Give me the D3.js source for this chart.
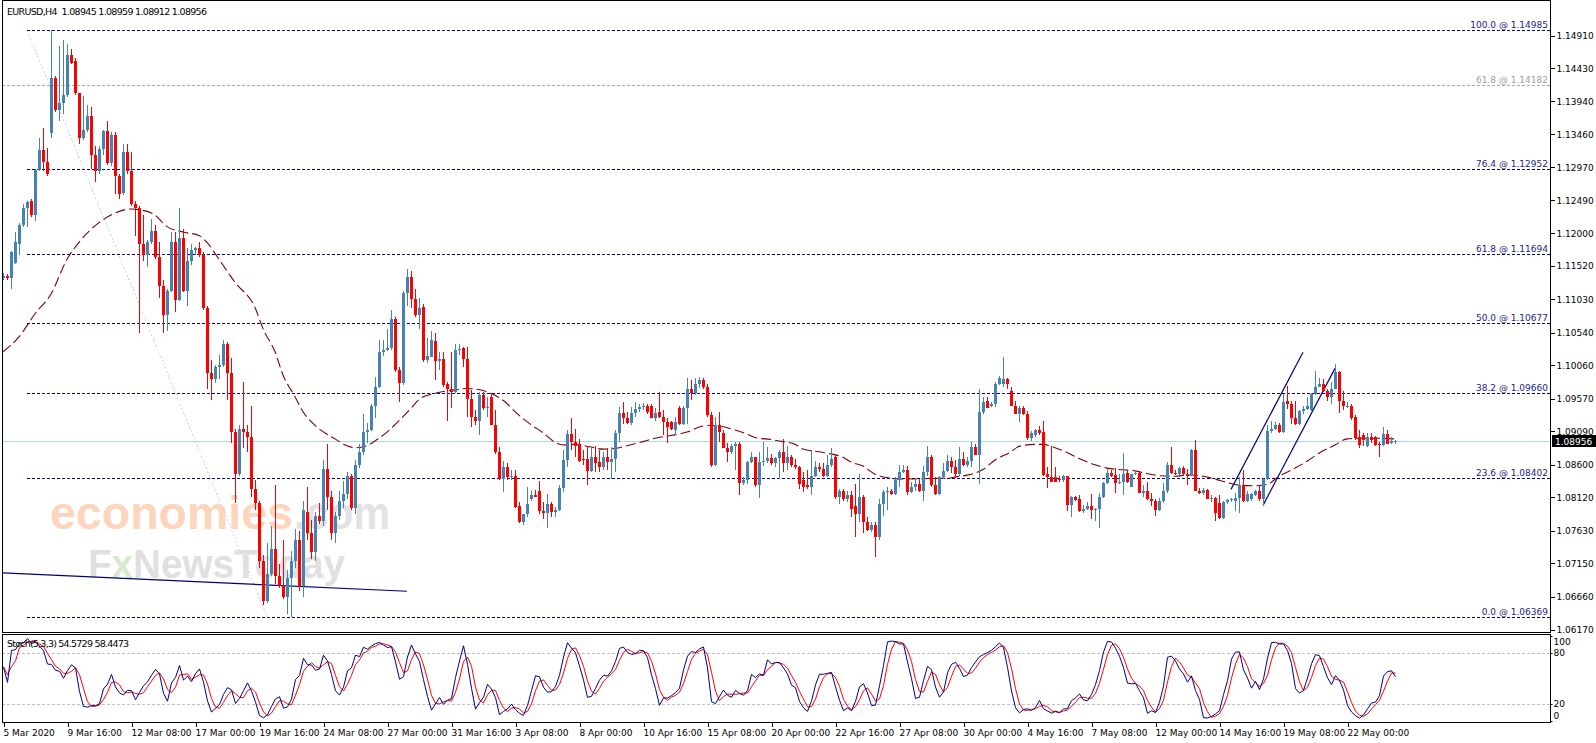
<!DOCTYPE html>
<html>
<head>
<meta charset="utf-8">
<script src="https://cdn.jsdelivr.net/npm/d3@7"></script>
<style>
  body { margin: 0; background: #fff; }
  svg { display: block; }
</style>
</head>
<body>
<svg width="1596" height="743"></svg>
<script>
const width = 1596, height = 743;

// EURUSD H4 bars from 5 Mar 2020 00:00, one row per bar: open, high, low, close
const ohlc = [
  [1.1134,1.1142,1.1131,1.1138],[1.1138,1.1140,1.1132,1.1134],[1.1134,1.1174,1.1119,1.1173],[1.1156,1.1202,1.1155,1.1187],
  [1.1185,1.1216,1.1168,1.1213],[1.1213,1.1244,1.1210,1.1237],[1.1237,1.1247,1.1210,1.1246],[1.1247,1.1250,1.1224,1.1227],
  [1.1227,1.1295,1.1219,1.1294],[1.1294,1.1341,1.1292,1.1323],[1.1323,1.1355,1.1292,1.1305],[1.1305,1.1325,1.1285,1.1287],
  [1.1348,1.14985,1.1341,1.1429],[1.1429,1.1432,1.1378,1.1382],[1.1382,1.1475,1.1365,1.1392],[1.1392,1.1484,1.1375,1.1403],
  [1.1403,1.1479,1.1400,1.1462],[1.1462,1.1471,1.1449,1.1450],[1.1454,1.1458,1.1403,1.1406],[1.1406,1.1407,1.1331,1.1341],
  [1.1341,1.1402,1.1338,1.1352],[1.1352,1.1389,1.1349,1.1372],[1.1372,1.1386,1.1295,1.1315],[1.1315,1.1329,1.1275,1.1292],
  [1.1292,1.1329,1.1287,1.1324],[1.1324,1.1352,1.1315,1.1350],[1.1350,1.1366,1.1301,1.1303],[1.1303,1.1349,1.1299,1.1345],
  [1.1345,1.1349,1.1258,1.1284],[1.1284,1.1287,1.1250,1.1258],[1.1259,1.1332,1.1256,1.1320],[1.1320,1.1331,1.1287,1.1292],
  [1.1292,1.1320,1.1241,1.1244],[1.1244,1.1248,1.1196,1.1237],[1.1237,1.1241,1.1054,1.1185],[1.1185,1.1227,1.1159,1.1168],
  [1.1168,1.1190,1.1150,1.1187],[1.1187,1.1221,1.1185,1.1203],[1.1203,1.1213,1.1162,1.1165],[1.1165,1.1187,1.1105,1.1123],
  [1.1123,1.1132,1.1054,1.1080],[1.1080,1.1119,1.1057,1.1116],[1.1116,1.1202,1.1114,1.1187],[1.1187,1.1202,1.1085,1.1102],
  [1.1102,1.1237,1.1100,1.1193],[1.1193,1.1207,1.1114,1.1116],[1.1116,1.1179,1.1094,1.1159],[1.1159,1.1185,1.1153,1.1176],
  [1.1176,1.1180,1.1168,1.1178],[1.1178,1.1187,1.1165,1.1169],[1.1169,1.1173,1.1088,1.1091],[1.1091,1.1094,1.0972,1.0995],
  [1.0995,1.1014,1.0955,1.0986],[1.0986,1.1006,1.0980,1.1004],[1.1004,1.1021,1.0986,1.1007],[1.1007,1.1044,1.1003,1.1038],
  [1.1038,1.1040,1.0955,1.0995],[1.0995,1.1017,1.0892,1.0908],[1.0908,1.0912,1.0804,1.0847],[1.0847,1.0919,1.0844,1.0912],
  [1.0912,1.0981,1.0884,1.0908],[1.0908,1.0918,1.0878,1.0901],[1.0901,1.0947,1.0813,1.0824],[1.0824,1.0838,1.0793,1.0804],
  [1.0804,1.0807,1.0708,1.0719],[1.0719,1.0728,1.0654,1.0660],[1.0660,1.0745,1.0657,1.0699],[1.0699,1.0770,1.0696,1.0736],
  [1.0736,1.0830,1.0685,1.0697],[1.0697,1.0714,1.0679,1.0682],[1.0682,1.0750,1.0662,1.0665],[1.0665,1.0705,1.0640,1.0694],
  [1.0694,1.0733,1.06369,1.0719],[1.0719,1.0765,1.0708,1.0750],[1.0750,1.0762,1.0674,1.0682],[1.0682,1.0807,1.0665,1.0793],
  [1.0790,1.0827,1.0750,1.0759],[1.0759,1.0779,1.0722,1.0731],[1.0731,1.0790,1.0719,1.0784],[1.0784,1.0804,1.0773,1.0777],
  [1.0777,1.0867,1.0770,1.0853],[1.0853,1.0890,1.0793,1.0813],[1.0813,1.0821,1.0750,1.0759],[1.0759,1.0790,1.0745,1.0784],
  [1.0784,1.0821,1.0779,1.0807],[1.0807,1.0836,1.0796,1.0817],[1.0817,1.0850,1.0810,1.0844],[1.0844,1.0847,1.0793,1.0796],
  [1.0796,1.0867,1.0787,1.0860],[1.0860,1.0890,1.0855,1.0879],[1.0879,1.0935,1.0875,1.0908],[1.0908,1.0921,1.0892,1.0911],
  [1.0911,1.0949,1.0909,1.0947],[1.0947,1.0989,1.0929,1.0975],[1.0975,1.1044,1.0973,1.1025],[1.1025,1.1043,1.1020,1.1028],
  [1.1028,1.1060,1.1027,1.1031],[1.1031,1.1087,1.1028,1.1074],[1.1074,1.1077,1.0997,1.1000],[1.1000,1.1003,1.0952,1.0980],
  [1.0980,1.1115,1.0977,1.1112],[1.1112,1.1148,1.1094,1.1136],[1.1136,1.1145,1.1091,1.1104],[1.1104,1.1119,1.1077,1.1080],
  [1.1080,1.1105,1.1060,1.1091],[1.1092,1.1096,1.1011,1.1014],[1.1014,1.1046,1.1009,1.1020],[1.1019,1.1057,1.1018,1.1044],
  [1.1042,1.1054,1.0984,1.1012],[1.1012,1.1026,1.0999,1.1016],[1.1016,1.1026,1.0975,1.0977],[1.0978,1.0982,1.0925,1.0971],
  [1.0971,1.1026,1.0943,1.0967],[1.0967,1.1037,1.0965,1.1028],[1.1028,1.1038,1.1021,1.1030],[1.1032,1.1033,1.1004,1.1016],
  [1.1016,1.1033,1.0930,1.0957],[1.0957,1.0970,1.0916,1.0930],[1.0930,1.0940,1.0918,1.0924],[1.0924,1.0967,1.0903,1.0962],
  [1.0962,1.0967,1.0940,1.0943],[1.0943,1.0960,1.0930,1.0945],[1.0960,1.0966,1.0918,1.0919],[1.0919,1.0940,1.0876,1.0879],
  [1.0879,1.0886,1.0837,1.0839],[1.0839,1.0866,1.0820,1.0856],[1.0856,1.0862,1.0837,1.0842],[1.0842,1.0852,1.0837,1.0844],
  [1.0843,1.0852,1.0797,1.0798],[1.0799,1.0805,1.0774,1.0776],[1.0776,1.0788,1.0772,1.0787],[1.0787,1.0828,1.0783,1.0803],
  [1.0810,1.0822,1.0807,1.0815],[1.0815,1.0823,1.0812,1.0813],[1.0822,1.0836,1.0788,1.0792],[1.0792,1.0805,1.0780,1.0789],
  [1.0789,1.0817,1.0767,1.0802],[1.0802,1.0805,1.0783,1.0790],[1.0790,1.0798,1.0783,1.0793],[1.0793,1.0830,1.0792,1.0826],
  [1.0826,1.0881,1.0820,1.0867],[1.0867,1.0911,1.0857,1.0905],[1.0905,1.0928,1.0881,1.0893],[1.0893,1.0912,1.0871,1.0888],
  [1.0891,1.0898,1.0864,1.0866],[1.0869,1.0881,1.0859,1.0867],[1.0869,1.0888,1.0830,1.0851],[1.0851,1.0886,1.0849,1.0872],
  [1.0872,1.0888,1.0849,1.0862],[1.0864,1.0881,1.0849,1.0856],[1.0856,1.0879,1.0852,1.0871],[1.0871,1.0884,1.0852,1.0864],
  [1.0864,1.0886,1.0839,1.0869],[1.0869,1.0911,1.0849,1.0906],[1.0906,1.0945,1.0893,1.0936],[1.0936,1.0952,1.0920,1.0928],
  [1.0928,1.0938,1.0920,1.0921],[1.0921,1.0945,1.0918,1.0936],[1.0936,1.0952,1.0930,1.0942],[1.0942,1.0950,1.0938,1.0945],
  [1.0945,1.0951,1.0940,1.0947],[1.0947,1.0950,1.0935,1.0938],[1.0947,1.0950,1.0928,1.0929],[1.0929,1.0943,1.0925,1.0936],
  [1.0938,1.0967,1.0929,1.0930],[1.0930,1.0940,1.0903,1.0923],[1.0923,1.0928,1.0892,1.0916],[1.0923,1.0925,1.0911,1.0912],
  [1.0911,1.0930,1.0903,1.0923],[1.0944,1.0947,1.0918,1.0920],[1.0920,1.0947,1.0918,1.0944],[1.0944,1.0987,1.0920,1.0971],
  [1.0971,1.0984,1.0955,1.0965],[1.0965,1.0987,1.0962,1.0979],[1.0979,1.0989,1.0973,1.0985],[1.0985,1.0988,1.0972,1.0974],
  [1.0975,1.0979,1.0930,1.0933],[1.0933,1.0938,1.0857,1.0859],[1.0859,1.0930,1.0858,1.0918],[1.0918,1.0938,1.0893,1.0908],
  [1.0907,1.0911,1.0884,1.0885],[1.0885,1.0892,1.0864,1.0879],[1.0879,1.0891,1.0876,1.0887],[1.0887,1.0893,1.0852,1.0890],
  [1.0890,1.0893,1.0815,1.0833],[1.0833,1.0842,1.0830,1.0838],[1.0838,1.0866,1.0832,1.0864],[1.0864,1.0879,1.0862,1.0871],
  [1.0871,1.0872,1.0828,1.0830],[1.0830,1.0879,1.0811,1.0864],[1.0864,1.0893,1.0858,1.0866],[1.0866,1.0886,1.0862,1.0870],
  [1.0870,1.0876,1.0859,1.0862],[1.0862,1.0871,1.0857,1.0870],[1.0870,1.0881,1.0839,1.0879],[1.0879,1.0898,1.0849,1.0862],
  [1.0862,1.0888,1.0852,1.0871],[1.0871,1.0874,1.0857,1.0859],[1.0859,1.0869,1.0854,1.0856],[1.0856,1.0858,1.0825,1.0832],
  [1.0837,1.0849,1.0820,1.0827],[1.0830,1.0852,1.0825,1.0828],[1.0828,1.0881,1.0815,1.0844],[1.0844,1.0866,1.0842,1.0857],
  [1.0856,1.0862,1.0849,1.0853],[1.0854,1.0862,1.0842,1.0844],[1.0844,1.0874,1.0842,1.0859],[1.0859,1.0885,1.0857,1.0869],
  [1.0872,1.0875,1.0810,1.0813],[1.0813,1.0825,1.0803,1.0822],[1.0822,1.0825,1.0807,1.0810],[1.0810,1.0822,1.0805,1.0815],
  [1.0816,1.0822,1.0783,1.0795],[1.0800,1.0832,1.0754,1.0788],[1.0788,1.0846,1.0776,1.0813],[1.0813,1.0815,1.0759,1.0776],
  [1.0776,1.0783,1.0763,1.0764],[1.0764,1.0776,1.0761,1.0772],[1.0772,1.0776,1.0725,1.0754],[1.0754,1.0810,1.0749,1.0803],
  [1.0803,1.0823,1.0785,1.0820],[1.0820,1.0827,1.0793,1.0822],[1.0822,1.0825,1.0815,1.0817],[1.0817,1.0842,1.0816,1.0837],
  [1.0837,1.0859,1.0827,1.0849],[1.0849,1.0859,1.0848,1.0852],[1.0852,1.0858,1.0815,1.0820],[1.0820,1.0835,1.0818,1.0828],
  [1.0828,1.0837,1.0822,1.0832],[1.0832,1.0839,1.0820,1.0822],[1.0822,1.0858,1.0807,1.0849],[1.0849,1.0888,1.0844,1.0871],
  [1.0871,1.0875,1.0827,1.0830],[1.0830,1.0842,1.0816,1.0817],[1.0817,1.0844,1.0816,1.0842],[1.0842,1.0862,1.0839,1.0851],
  [1.0851,1.0874,1.0849,1.0866],[1.0866,1.0871,1.0848,1.0857],[1.0857,1.0867,1.0840,1.0846],[1.0846,1.0886,1.0844,1.0869],
  [1.0869,1.0879,1.0858,1.0859],[1.0859,1.0871,1.0857,1.0866],[1.0866,1.0893,1.0857,1.0886],[1.0886,1.0890,1.0874,1.0875],
  [1.0875,1.0972,1.0832,1.0938],[1.0938,1.0960,1.0934,1.0952],[1.0954,1.0960,1.0943,1.0944],[1.0946,1.0952,1.0945,1.0949],
  [1.0949,1.0982,1.0945,1.0979],[1.0979,1.0990,1.0977,1.0987],[1.0979,1.1018,1.0974,1.0986],[1.0986,1.0988,1.0971,1.0978],
  [1.0968,1.0974,1.0946,1.0947],[1.0947,1.0954,1.0934,1.0935],[1.0935,1.0947,1.0923,1.0944],[1.0944,1.0946,1.0933,1.0934],
  [1.0935,1.0939,1.0897,1.0899],[1.0899,1.0910,1.0895,1.0907],[1.0903,1.0913,1.0901,1.0911],[1.0911,1.0917,1.0903,1.0906],
  [1.0908,1.0925,1.0843,1.0845],[1.0847,1.0857,1.0826,1.0842],[1.0842,1.0887,1.0834,1.0835],[1.0842,1.0857,1.0834,1.0835],
  [1.0839,1.0844,1.0835,1.0837],[1.0837,1.0845,1.0835,1.0843],[1.0843,1.0844,1.0792,1.0801],[1.0801,1.0814,1.0783,1.0812],
  [1.0812,1.0814,1.0806,1.0808],[1.0809,1.0816,1.0790,1.0792],[1.0792,1.0801,1.0789,1.0795],[1.0795,1.0805,1.0793,1.0799],
  [1.0800,1.0817,1.0780,1.0793],[1.0793,1.0796,1.0777,1.0795],[1.0795,1.0818,1.0767,1.0812],[1.0812,1.0835,1.0811,1.0833],
  [1.0833,1.0853,1.0832,1.0848],[1.0848,1.0852,1.0842,1.0843],[1.0845,1.0855,1.0819,1.0833],[1.0833,1.0847,1.0832,1.0835],
  [1.0835,1.0877,1.0816,1.0847],[1.0848,1.0852,1.0833,1.0835],[1.0828,1.0847,1.0827,1.0846],[1.0846,1.0851,1.0845,1.0848],
  [1.0848,1.0850,1.0818,1.0819],[1.0818,1.0830,1.0813,1.0822],[1.0822,1.0834,1.0808,1.0809],[1.0809,1.0819,1.0800,1.0806],
  [1.0806,1.0809,1.0784,1.0793],[1.0793,1.0811,1.0792,1.0806],[1.0806,1.0833,1.0804,1.0821],[1.0821,1.0864,1.0818,1.0860],
  [1.0860,1.0886,1.0847,1.0848],[1.0848,1.0852,1.0845,1.0847],[1.0847,1.0857,1.0845,1.0855],[1.0855,1.0858,1.0843,1.0847],
  [1.0847,1.0853,1.0830,1.0844],[1.0844,1.0883,1.0843,1.0881],[1.0881,1.0897,1.0821,1.0822],[1.0822,1.0826,1.0817,1.0818],
  [1.0818,1.0826,1.0816,1.0823],[1.0823,1.0824,1.0809,1.0810],[1.0809,1.0816,1.0805,1.0811],[1.0811,1.0813,1.0777,1.0789],
  [1.0804,1.0816,1.0780,1.0782],[1.0782,1.0806,1.0780,1.0805],[1.0805,1.0809,1.0803,1.0808],[1.0808,1.0811,1.0805,1.0809],
  [1.0806,1.0818,1.0792,1.0811],[1.0811,1.0842,1.0789,1.0830],[1.0830,1.0852,1.0805,1.0806],[1.0806,1.0821,1.0805,1.0817],
  [1.0809,1.0818,1.0806,1.0817],[1.0816,1.0823,1.0814,1.0821],[1.0822,1.0829,1.0806,1.0809],[1.0809,1.0840,1.0801,1.0839],
  [1.0839,1.0919,1.0837,1.0910],[1.0910,1.0925,1.0907,1.0913],[1.0913,1.0923,1.0911,1.0919],[1.0919,1.0921,1.0907,1.0908],
  [1.0908,1.0964,1.0906,1.0952],[1.0953,1.0976,1.0942,1.0950],[1.0950,1.0954,1.0920,1.0928],[1.0929,1.0954,1.0918,1.0920],
  [1.0920,1.0941,1.0918,1.0939],[1.0939,1.0947,1.0935,1.0942],[1.0942,1.0960,1.0940,1.0947],[1.0940,1.0965,1.0939,1.0964],
  [1.0964,1.0998,1.0963,1.0975],[1.0975,1.0988,1.0974,1.0978],[1.0978,1.0986,1.0967,1.0968],[1.0968,1.0971,1.0954,1.0959],
  [1.0959,1.0981,1.0950,1.0972],[1.0972,1.1008,1.0971,1.0996],[1.0996,1.0998,1.0936,1.0953],[1.0953,1.0969,1.0940,1.0947],
  [1.0946,1.0952,1.0944,1.0947],[1.0947,1.0950,1.0926,1.0928],[1.0930,1.0933,1.0896,1.0899],[1.0901,1.0911,1.0885,1.0889],
  [1.0903,1.0906,1.0887,1.0896],[1.0887,1.0907,1.0886,1.0901],[1.0901,1.0906,1.0892,1.0896],[1.0901,1.0902,1.0887,1.0889],
  [1.0891,1.0894,1.0871,1.0889],[1.0889,1.0915,1.0887,1.0905],[1.0905,1.0911,1.0890,1.0891],[1.0892,1.0901,1.0891,1.0895],
  [1.08945,1.08959,1.08912,1.08956]
];

// one label every 16 bars, starting at the first bar
const timeLabels = ["5 Mar 2020", "9 Mar 16:00", "12 Mar 08:00", "17 Mar 00:00", "19 Mar 16:00", "24 Mar 08:00",
  "27 Mar 00:00", "31 Mar 16:00", "3 Apr 08:00", "8 Apr 00:00", "10 Apr 16:00", "15 Apr 08:00", "20 Apr 00:00",
  "22 Apr 16:00", "27 Apr 08:00", "30 Apr 00:00", "4 May 16:00", "7 May 08:00", "12 May 00:00", "14 May 16:00",
  "19 May 08:00", "22 May 00:00"];
const labelStep = 16;

const priceTicks = [1.14910, 1.14430, 1.13940, 1.13460, 1.12970, 1.12490, 1.12000, 1.11520, 1.11030, 1.10540,
  1.10060, 1.09570, 1.09090, 1.08600, 1.08120, 1.07630, 1.07150, 1.06660, 1.06170];
const stochTicks = [100, 80, 20, 0];
const stochLevels = [80, 20];

// fibonacci retracement (drawn from bar 6 to bar 66) and an older 61.8 level
const fibNames = ["100.0", "76.4", "61.8", "50.0", "38.2", "23.6", "0.0"];
const fibPrices = [1.14985, 1.12952, 1.11694, 1.10677, 1.09660, 1.08402, 1.06369];
const fibAnchorBars = [6, 66];
const oldFibName = "61.8", oldFibPrice = 1.14182;

// moving average at these bars
const maBars = [0, 4, 8, 12, 16, 19, 24, 28, 32, 34, 38, 41, 45, 49, 51, 54, 58, 63, 65, 68, 70, 73, 75, 78, 83, 86,
  88, 91, 93, 96, 98, 102, 104, 108, 113, 116, 120, 123, 126, 128, 132, 135, 138, 140, 143, 147, 150, 153, 156, 160,
  163, 167, 171, 175, 177, 179, 183, 186, 188, 192, 195, 198, 200, 204, 207, 210, 212, 215, 218, 221, 224, 228, 232,
  236, 238, 242, 245, 248, 252, 254, 258, 260, 263, 266, 269, 273, 276, 279, 283, 286, 289, 293, 296, 299, 303, 306,
  309, 313, 316, 319, 323, 326, 329, 333, 336, 339, 343, 348];
const maValues = [1.1026, 1.1048, 1.1082, 1.1111, 1.1162, 1.1187, 1.1216, 1.1230, 1.1236, 1.1235, 1.1227, 1.1210,
  1.1202, 1.1197, 1.1187, 1.1162, 1.1128, 1.1091, 1.1060, 1.1026, 1.0992, 1.0960, 1.0938, 1.0918, 1.0898, 1.0888,
  1.0885, 1.0888, 1.0895, 1.0908, 1.0919, 1.0943, 1.0956, 1.0965, 1.0970, 1.0972, 1.0969, 1.0962, 1.0950, 1.0938,
  1.0919, 1.0907, 1.0893, 1.0889, 1.0890, 1.0886, 1.0883, 1.0884, 1.0888, 1.0894, 1.0899, 1.0903, 1.0908, 1.0917,
  1.0918, 1.0917, 1.0911, 1.0905, 1.0900, 1.0897, 1.0894, 1.0890, 1.0883, 1.0879, 1.0876, 1.0871, 1.0864, 1.0858,
  1.0846, 1.0841, 1.0839, 1.0839, 1.0840, 1.0840, 1.0842, 1.0846, 1.0853, 1.0867, 1.0879, 1.0887, 1.0890, 1.0890,
  1.0885, 1.0878, 1.0869, 1.0860, 1.0855, 1.0853, 1.0851, 1.0847, 1.0844, 1.0843, 1.0845, 1.0844, 1.0839, 1.0834,
  1.0830, 1.0829, 1.0831, 1.0843, 1.0855, 1.0865, 1.0877, 1.0889, 1.0898, 1.0899, 1.0899, 1.0898];

// trend lines: [bar, price] end points
const trendLine = [[0, 1.0701], [101, 1.0674]];
const channelUpper = [[307, 1.08238], [325, 1.10253]];
const channelLower = [[315, 1.08003], [333, 1.10017]];

const lastPrice = 1.08956;
const titleText = "EURUSD,H4  1.08945 1.08959 1.08912 1.08956";
const stochText = "Stoch(5,3,3) 54.5729 58.4473";

const font = "DejaVu Sans";
const bull = "#4682b4", bear = "#ff0000";

// panel geometry
const left = 2, right = 1550;
const mainTop = 0, mainBottom = 632;
const stochTop = 634, stochBottom = 722;

const svg = d3.select("svg");
svg.append("rect").attr("width", width).attr("height", height).attr("fill", "#fff");

const x = d3.scaleLinear().domain([0, ohlc.length - 1]).range([3, 3 + 4 * (ohlc.length - 1)]);
const y = d3.scaleLinear().domain([fibPrices[6], fibPrices[0]]).range([616.5, 30.4]);
const ys = d3.scaleLinear().domain([0, 100]).range([721, 636]);

const defs = svg.append("defs");
defs.append("clipPath").attr("id", "clipMain").append("rect")
  .attr("x", left + 1).attr("y", mainTop + 1).attr("width", right - left - 1).attr("height", mainBottom - mainTop - 1);
defs.append("clipPath").attr("id", "clipStoch").append("rect")
  .attr("x", left + 1).attr("y", stochTop + 1).attr("width", right - left - 1).attr("height", stochBottom - stochTop - 1);

const main = svg.append("g").attr("clip-path", "url(#clipMain)");

// watermark behind everything
const wm = main.append("g").attr("font-family", "Liberation Sans").attr("font-weight", "bold").attr("opacity", 0.75);
wm.append("text").attr("x", 50).attr("y", 529).attr("font-size", 46)
  .attr("textLength", 243).attr("lengthAdjust", "spacingAndGlyphs")
  .attr("fill", "#fcc7a6").text("economies");
wm.append("text").attr("x", 294).attr("y", 529).attr("font-size", 46)
  .attr("textLength", 96).attr("lengthAdjust", "spacingAndGlyphs")
  .attr("fill", "#d9d9d9").text(".com");
const fx = wm.append("text").attr("x", 88).attr("y", 578).attr("font-size", 40)
  .attr("textLength", 257).attr("lengthAdjust", "spacingAndGlyphs").attr("fill", "#d6d6d6");
fx.append("tspan").text("F");
fx.append("tspan").attr("fill", "#c9e4bf").text("x");
fx.append("tspan").text("NewsToday");

const snap = v => Math.round(v) + 0.5;

// fibonacci levels
const fibG = main.append("g").attr("shape-rendering", "crispEdges");
fibG.append("line")
  .attr("x1", x(fibAnchorBars[0])).attr("y1", y(fibPrices[0]))
  .attr("x2", x(fibAnchorBars[1])).attr("y2", y(fibPrices[6]))
  .attr("stroke", "#d6d6ee").attr("stroke-dasharray", "2,2");
fibG.append("line")
  .attr("x1", left).attr("x2", right)
  .attr("y1", snap(y(oldFibPrice))).attr("y2", snap(y(oldFibPrice)))
  .attr("stroke", "#a9a9a9").attr("stroke-dasharray", "3,2");
fibG.selectAll(".fib").data(fibPrices).join("line")
  .attr("x1", x(fibAnchorBars[0])).attr("x2", right)
  .attr("y1", d => snap(y(d))).attr("y2", d => snap(y(d)))
  .attr("stroke", "#000080").attr("stroke-dasharray", "3,2");

const fibText = svg.append("g").attr("font-family", font).attr("font-size", 9).attr("text-anchor", "end");
fibText.selectAll("text").data(fibPrices).join("text")
  .attr("x", right - 2).attr("y", d => Math.round(y(d)) - 2)
  .attr("fill", "#1c1c8a")
  .text((d, i) => `${fibNames[i]} @ ${d.toFixed(5)}`);
fibText.append("text")
  .attr("x", right - 2).attr("y", Math.round(y(oldFibPrice)) - 2)
  .attr("fill", "#a0a0a0")
  .text(`${oldFibName} @ ${oldFibPrice.toFixed(5)}`);

// bid line
main.append("line")
  .attr("x1", left).attr("x2", right)
  .attr("y1", snap(y(lastPrice))).attr("y2", snap(y(lastPrice)))
  .attr("stroke", "#a6dbe4").attr("shape-rendering", "crispEdges");

// moving average
const maLine = d3.line().x(d => x(d[0])).y(d => y(d[1])).curve(d3.curveMonotoneX);
main.append("path")
  .attr("d", maLine(d3.zip(maBars, maValues)))
  .attr("fill", "none").attr("stroke", "#800000").attr("stroke-width", 1.1)
  .attr("stroke-dasharray", "10,4");

// drawn trend lines
const seg = d3.line().x(d => x(d[0])).y(d => y(d[1]));
[trendLine, channelUpper, channelLower].forEach(pts => {
  main.append("path").attr("d", seg(pts))
    .attr("fill", "none").attr("stroke", "#000080").attr("stroke-width", 1.2);
});

// candles
const candles = main.append("g").attr("shape-rendering", "crispEdges");
const bars = candles.selectAll("g").data(ohlc).join("g");
bars.append("line")
  .attr("x1", (d, i) => x(i) + 0.5).attr("x2", (d, i) => x(i) + 0.5)
  .attr("y1", d => y(d[1])).attr("y2", d => y(d[2]))
  .attr("stroke", d => d[3] >= d[0] ? bull : bear);
bars.append("rect")
  .attr("x", (d, i) => x(i) - 1).attr("width", 3)
  .attr("y", d => y(Math.max(d[0], d[3])))
  .attr("height", d => Math.max(1, Math.abs(y(d[0]) - y(d[3]))))
  .attr("fill", d => d[3] >= d[0] ? bull : bear);

// stochastic (5,3,3) from the bars
const kPeriod = 5, slowing = 3, dPeriod = 3;
const num = [], den = [], stochK = [], stochD = [];
ohlc.forEach((d, i) => {
  const win = ohlc.slice(Math.max(0, i - kPeriod + 1), i + 1);
  const lo = d3.min(win, b => b[2]), hi = d3.max(win, b => b[1]);
  num.push(d[3] - lo);
  den.push(hi - lo);
  const s = Math.max(0, i - slowing + 1);
  const n = d3.sum(num.slice(s, i + 1)), m = d3.sum(den.slice(s, i + 1));
  stochK.push(m > 0 ? 100 * n / m : 50);
  stochD.push(d3.mean(stochK.slice(Math.max(0, i - dPeriod + 1), i + 1)));
});

const stochG = svg.append("g").attr("clip-path", "url(#clipStoch)");
stochG.selectAll(".lvl").data(stochLevels).join("line")
  .attr("x1", left).attr("x2", right)
  .attr("y1", d => snap(ys(d))).attr("y2", d => snap(ys(d)))
  .attr("stroke", "#c0c0c0").attr("stroke-dasharray", "3,2").attr("shape-rendering", "crispEdges");
const sLine = d3.line().x((d, i) => x(i) + 0.5).y(d => ys(d));
stochG.append("path").attr("d", sLine(stochD))
  .attr("fill", "none").attr("stroke", "#ff0000").attr("stroke-width", 1);
stochG.append("path").attr("d", sLine(stochK))
  .attr("fill", "none").attr("stroke", "#000080").attr("stroke-width", 1);

// panel frames
const frames = svg.append("g").attr("fill", "none").attr("stroke", "#000").attr("shape-rendering", "crispEdges");
frames.append("rect").attr("x", left + 0.5).attr("y", mainTop + 0.5)
  .attr("width", right - left).attr("height", mainBottom - mainTop);
frames.append("rect").attr("x", left + 0.5).attr("y", stochTop + 0.5)
  .attr("width", right - left).attr("height", stochBottom - stochTop);

// price axis
const priceAxis = svg.append("g")
  .attr("transform", `translate(${right + 0.5},0)`)
  .call(d3.axisRight(y).tickValues(priceTicks).tickSize(4).tickPadding(2).tickFormat(d3.format(".5f")));
priceAxis.select(".domain").remove();
priceAxis.attr("font-family", font).attr("font-size", 9);
priceAxis.selectAll("line").attr("shape-rendering", "crispEdges");

// last price tag
const tagY = Math.round(y(lastPrice));
svg.append("rect").attr("x", right + 2).attr("y", tagY - 6).attr("width", 44).attr("height", 12).attr("fill", "#000");
svg.append("text").attr("x", right + 5).attr("y", tagY + 3.5)
  .attr("font-family", font).attr("font-size", 9).attr("fill", "#fff")
  .text(lastPrice.toFixed(5));

// stochastic axis
const stochAxis = svg.append("g")
  .attr("transform", `translate(${right + 0.5},0)`)
  .call(d3.axisRight(ys).tickValues(stochTicks).tickSize(2).tickPadding(1));
stochAxis.select(".domain").remove();
stochAxis.attr("font-family", font).attr("font-size", 9);
stochAxis.selectAll("text")
  .attr("dy", d => d === 100 ? "0.95em" : d === 0 ? "-0.25em" : "0.32em");

// time axis
const timeAxis = svg.append("g")
  .attr("transform", `translate(0,${stochBottom + 0.5})`)
  .call(d3.axisBottom(x).tickValues(d3.range(0, ohlc.length, labelStep)).tickSize(4).tickPadding(3)
    .tickFormat((d, i) => timeLabels[i]));
timeAxis.select(".domain").remove();
timeAxis.attr("font-family", font).attr("font-size", 9);
timeAxis.selectAll("line").attr("transform", "translate(0.5,0)").attr("shape-rendering", "crispEdges");
timeAxis.selectAll("text").attr("text-anchor", "start");

// captions
svg.append("text").attr("x", 7).attr("y", 15)
  .attr("font-family", font).attr("font-size", 9.5).style("white-space", "pre")
  .attr("textLength", 200).attr("lengthAdjust", "spacing")
  .text(titleText);
svg.append("text").attr("x", 7).attr("y", 647)
  .attr("font-family", font).attr("font-size", 9.5)
  .attr("textLength", 122).attr("lengthAdjust", "spacing")
  .text(stochText);
</script>
</body>
</html>
